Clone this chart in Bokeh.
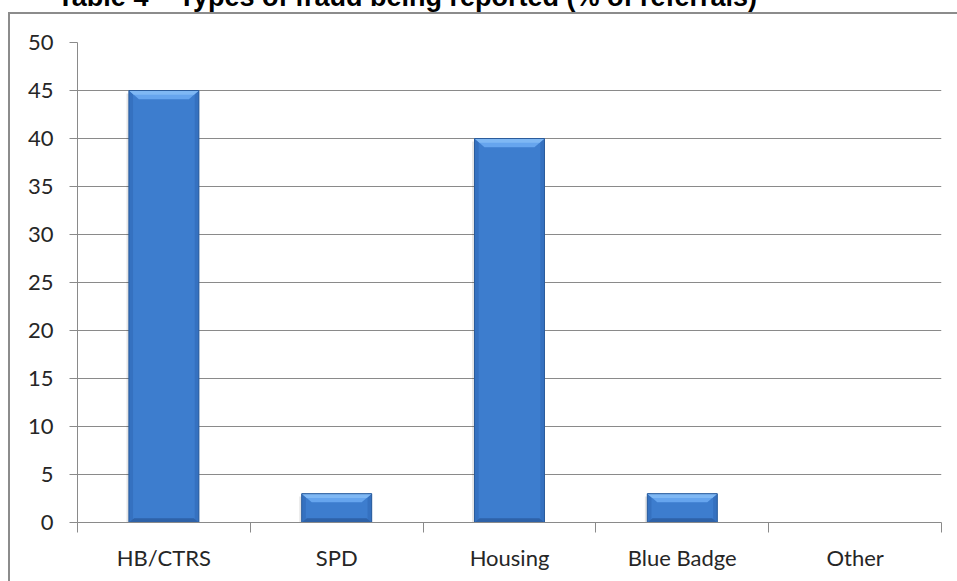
from bokeh.plotting import figure
from bokeh.layouts import column
from bokeh.models import Range1d, FixedTicker, Div
from bokeh.embed import file_html
from bokeh.resources import INLINE

# ---- data ----
categories = ["HB/CTRS", "SPD", "Housing", "Blue Badge", "Other"]
values = [45, 3, 40, 3, 0]
y_ticks = [0, 5, 10, 15, 20, 25, 30, 35, 40, 45, 50]
title_text = "Table 4 \u2013 Types of fraud being reported (% of referrals)"

x_pos = [i + 0.5 for i in range(len(categories))]
boundaries = list(range(len(categories) + 1))

GRAY = "#8a8a8a"
FRAME = "#8c8c8c"
TEXT = "#262626"
W, H_TOP = 957, 12

# ---- title strip (the source image cuts the title off at its top edge) ----
title = Div(
    text=('<div style="width:757px;text-align:right;white-space:nowrap;'
          'position:relative;top:-16px;margin:0;padding:0;'
          'font-family:\'Liberation Sans\',Arial,sans-serif;font-weight:bold;'
          'font-size:27px;line-height:27px;color:#000000;">%s</div>' % title_text),
    width=W, height=H_TOP, margin=(0, 0, 0, 0),
    styles={"overflow": "hidden", "padding": "0px", "margin": "0px"})

# ---- main chart ----
p = figure(width=W, height=581 - H_TOP, output_backend="svg", toolbar_location=None,
           x_range=Range1d(0, len(categories)), y_range=Range1d(0, 50),
           min_border_left=77, min_border_right=16, min_border_top=42 - H_TOP,
           min_border_bottom=59, margin=(0, 0, 0, 0))
p.outline_line_color = None
p.background_fill_color = "white"
p.border_fill_color = None
grad = "linear-gradient(%s, %s)" % (FRAME, FRAME)
p.styles = {"background-image": grad + ", " + grad,
            "background-size": "2px 100%, 100% 2px",
            "background-position": "8px 0px, 8px 0px",
            "background-repeat": "no-repeat, no-repeat"}

p.xaxis.ticker = FixedTicker(ticks=x_pos, minor_ticks=boundaries)
p.xaxis.major_label_overrides = {x: c for x, c in zip(x_pos, categories)}
p.xaxis.major_tick_out = 0
p.xaxis.major_tick_in = 0
p.xaxis.minor_tick_out = 10
p.xaxis.minor_tick_in = 0
p.xaxis.minor_tick_line_color = GRAY
p.xaxis.axis_line_color = GRAY
p.xaxis.major_label_standoff = 11

p.yaxis.ticker = FixedTicker(ticks=y_ticks)
p.yaxis.major_tick_out = 8
p.yaxis.major_tick_in = 0
p.yaxis.major_tick_line_color = GRAY
p.yaxis.minor_tick_line_color = None
p.yaxis.axis_line_color = GRAY
p.yaxis.major_label_standoff = 16

for ax in (p.xaxis, p.yaxis):
    ax.major_label_text_font = "Lato"
    ax.major_label_text_font_size = "22px"
    ax.major_label_text_color = TEXT

p.xgrid.grid_line_color = None
p.ygrid.grid_line_color = GRAY
p.ygrid.grid_line_width = 1

# ---- bars (with bevel shading) ----
bar_w = 0.405
dx, dy = 0.058, 0.9
dx2, dy2 = 0.03, 0.45
bars = [(x, v) for x, v in zip(x_pos, values) if v > 0]
bx = [b[0] for b in bars]
bv = [b[1] for b in bars]

p.vbar(x=[x - 0.014 for x in bx], width=bar_w, top=[v - 0.3 for v in bv], bottom=0,
       fill_color="#000000", fill_alpha=0.10, line_color=None)
p.vbar(x=bx, width=bar_w, top=bv, bottom=0, fill_color="#3d7dce", line_color=None)
p.vbar(x=[x - bar_w / 2 + 0.012 for x in bx], width=0.024, top=bv, bottom=0,
       fill_color="#3571c0", line_color=None)
p.vbar(x=[x + bar_w / 2 - 0.012 for x in bx], width=0.024, top=bv, bottom=0,
       fill_color="#3571c0", line_color=None)
p.patches(xs=[[x - bar_w / 2, x + bar_w / 2, x + bar_w / 2 - dx2, x - bar_w / 2 + dx2] for x in bx],
          ys=[[0, 0, dy2, dy2] for v in bv],
          fill_color="#2e62a8", line_color=None)
p.patches(xs=[[x - bar_w / 2, x + bar_w / 2, x + bar_w / 2 - dx, x - bar_w / 2 + dx] for x in bx],
          ys=[[v, v, v - dy, v - dy] for v in bv],
          fill_color="#66a5ee", line_color=None)
p.patches(xs=[[x - bar_w / 2, x + bar_w / 2, x + bar_w / 2 - dx / 2, x - bar_w / 2 + dx / 2] for x in bx],
          ys=[[v, v, v - dy / 2, v - dy / 2] for v in bv],
          fill_color="#7fb8f4", line_color=None)
p.vbar(x=bx, width=bar_w, top=bv, bottom=0, fill_color=None,
       line_color="#2b5c9b", line_width=1)

layout = column(title, p, spacing=0)
open("out.html", "w").write(file_html(layout, INLINE))
